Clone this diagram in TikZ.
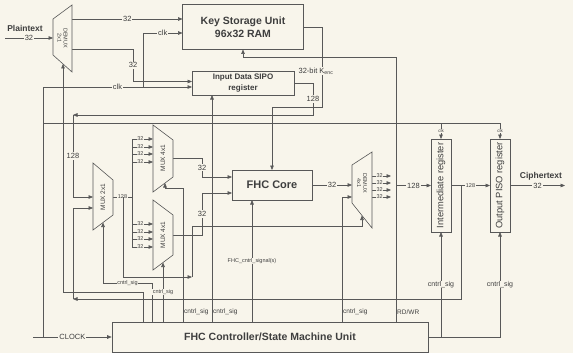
\documentclass[tikz,border=0pt]{standalone}
\usepackage{fontspec}
\setmainfont{Liberation Sans}
\usepackage{tikz}
\usetikzlibrary{arrows.meta,positioning,calc}

\definecolor{paper}{RGB}{248,245,235}
\definecolor{ink}{RGB}{88,88,88}
\definecolor{txt}{RGB}{62,62,62}

\tikzset{
  wire/.style={draw=ink, line width=0.6pt},
  arr/.style={wire, -{Triangle[length=4.5pt,width=3.6pt]}},
  blk/.style={draw=ink, fill=paper, line width=0.6pt, inner sep=0pt, align=center, text=txt},
  unit/.style={draw=ink, fill=paper, line width=0.6pt},
  muxlbl/.style={align=center, inner sep=0pt, text=txt, font=\fontsize{6.5}{6.5}\selectfont},
  buslbl/.style={fill=paper, inner sep=1pt, text=txt, font=\fontsize{7.5}{8}\selectfont},
  siglbl/.style={fill=paper, inner sep=0.6pt, text=txt, font=\fontsize{5.5}{6}\selectfont},
  sigtxt/.style={inner sep=1pt, text=txt, font=\fontsize{6.5}{7}\selectfont},
}

\begin{document}
\begin{tikzpicture}[x=1pt,y=-1pt]
    \fill[paper] (0,0) rectangle (573,353);
    \useasboundingbox (0,0) rectangle (573,353);

    % Clock tree
    \coordinate (clkin) at (33,337);
    \coordinate (clkl) at (43,87);
    \draw[wire] (clkin -| clkl) -- (clkl);
    \draw[arr] (clkl) -- node[buslbl]{clk} (clkl -| 192,0);
    \draw[arr] (143,87) |- node[pos=0.75, buslbl]{clk} (182.5,33);
    \draw[wire] (43,123) -- (500,123);

    % Controller lines (top side)
    \draw[arr] (143,322) |- (63,292) -- (63,64);
    \draw[arr] (152,322) |- node[pos=0.75, siglbl]{cntrl\_sig} (103,283) -- (103,222.5);
    \draw[arr] (163,322) -- node[siglbl]{cntrl\_sig} (163,262.5);
    \draw[arr] (183,322) |- (165,188) -- (165,183);
    \draw[arr] (212,322) -- (212,95);
    \draw[arr] (252,322) -- node[siglbl]{FHC\_cntrl\_signal(s)} (252,200);
    \draw[arr] (342,322) |- (352,197);
    \draw[arr] (396,322) -- (396,57) -| (243,49.5);
    \node[sigtxt, right] at (183,312) {cntrl\_sig};
    \node[sigtxt, right] at (212,312) {cntrl\_sig};
    \node[sigtxt, right] at (342,312) {cntrl\_sig};
    \node[sigtxt, right] at (396,312) {RD/WR};

    % Data path
    \node[text=txt, font=\bfseries\fontsize{8.5}{9}\selectfont] (pt) at (25,28) {Plaintext};
    \coordinate (ptin) at (5,38);
    \draw[arr] (ptin) -- node[buslbl]{32} (53,38);
    \draw[arr] (72,19) -- node[buslbl]{32} (182.5,19);
    \draw[arr] (72,49) -| node[pos=0.75, buslbl]{32} (133,81.5) -- (192,81.5);

    % SIPO and key outputs
    \draw[arr] (294,83) -| node[pos=0.75, buslbl]{128} (313,115) -- (73,115);
    \draw[arr] (73,115) -- node[buslbl]{128} (73,197) -- (93,197);
    \draw[arr] (303.5,27) -- (322,27) -- node[buslbl, pos=0.55, xshift=-6pt]{32-bit K$_{\mathrm{enc}}$} (322,107) -| (272,170);

    % MUX fan-out
    \draw[wire] (113,197) -- node[siglbl]{128} (132,197);
    \draw[wire] (132,139) -- (132,247);
    \foreach \y in {139,147,154,162,224,232,239,247} {
        \draw[arr] (132,\y) -- node[siglbl, pos=0.4]{32} (153,\y);
    }
    \draw[arr] (123,197) -- (123,277) -- (192,277);
    \draw[arr] (192,277) -- (192,226) -| (362,215.5);
    \draw[arr] (173,158) -| node[pos=0.75, buslbl]{32} (202,177) -- (232,177);
    \draw[arr] (173,235) -| node[pos=0.75, buslbl]{32} (202,193) -- (232,193);

    % Core to registers
    \draw[arr] (312,185) -- node[buslbl]{32} (352,185);
    \foreach \y in {176,183,190,197} {
        \draw[arr] (372,\y) -- node[siglbl, pos=0.4]{32} (391,\y);
    }
    \draw[arr] (396,185.5) -- node[buslbl]{128} (431,185.5);
    \draw[arr] (451,185.5) -- node[siglbl]{128} (490,185.5);
    \draw[arr] (510,185.5) -- node[buslbl]{32} (565,185.5);
    \node[text=txt, font=\bfseries\fontsize{8.5}{9}\selectfont] (ct) at (541,176) {Ciphertext};
    \draw[arr] (461,185.5) -- (461,299) -- (73,299);
    \draw[arr] (73,299) -- (73,208) -- (93,208);
    \draw[arr] (441,123) -- node[siglbl, font=\fontsize{4.5}{5}\selectfont]{clk} (441,139);
    \draw[arr] (500,123) -- node[siglbl, font=\fontsize{4.5}{5}\selectfont]{clk} (500,139);

    % Controller lines (right side)
    \draw[arr] (428,337) -| node[pos=0.75, siglbl, font=\fontsize{7}{7}\selectfont]{cntrl\_sig} (500,232);
    \draw[arr] (441,337) -- node[siglbl, font=\fontsize{7}{7}\selectfont]{cntrl\_sig} (441,232);

    % Blocks
    \node[blk, minimum width=121pt, minimum height=45pt, font=\bfseries\fontsize{10.5}{13}\selectfont] (ksu) at (243,27) {Key Storage Unit\\96x32 RAM};
    \node[blk, minimum width=102pt, minimum height=24pt, font=\bfseries\fontsize{8}{11}\selectfont] (sipo) at (243,83) {Input Data SIPO\\register};
    \node[blk, minimum width=80pt, minimum height=30pt, font=\bfseries\fontsize{11}{12}\selectfont] (core) at (272,185) {FHC Core};
    \node[blk, minimum width=316pt, minimum height=30pt, font=\bfseries\fontsize{10.5}{12}\selectfont] (ctrl) at (270,337) {FHC Controller/State Machine Unit};
    \node[blk, minimum width=20pt, minimum height=93pt] (ireg) at (441,185.5) {};
    \node[rotate=90, text=txt, font=\fontsize{9.3}{10}\selectfont] at (ireg) {Intermediate register};
    \node[blk, minimum width=20pt, minimum height=93pt] (oreg) at (500,185.5) {};
    \node[rotate=90, text=txt, font=\fontsize{9.3}{10}\selectfont] at (oreg) {Output PISO register};
    \draw[arr] (clkin) -- node[buslbl]{CLOCK} (ctrl.west);

    % Multiplexers
    \draw[unit] (53,19) -- (72,5) -- (72,72) -- (53,55) -- cycle;
    \node[muxlbl, rotate=-90, font=\fontsize{5.5}{6}\selectfont] (dmxa) at (62.5,38) {DEMUX\\2x1};
    \draw[unit] (93,163) -- (113,180) -- (113,215) -- (93,230) -- cycle;
    \node[muxlbl, rotate=90] (mxa) at (103,197) {MUX 2x1};
    \draw[unit] (153,125) -- (173,140) -- (173,177) -- (153,192) -- cycle;
    \node[muxlbl, rotate=90] (mxb) at (163,158) {MUX 4x1};
    \draw[unit] (153,200) -- (173,215) -- (173,255) -- (153,270) -- cycle;
    \node[muxlbl, rotate=90] (mxc) at (163,235) {MUX 4x1};
    \draw[unit] (352,165) -- (372,152) -- (372,228) -- (352,203) -- cycle;
    \node[muxlbl, rotate=-90, font=\fontsize{5.5}{6}\selectfont] (dmxb) at (362,183) {DEMUX\\4x1};
\end{tikzpicture}
\end{document}
